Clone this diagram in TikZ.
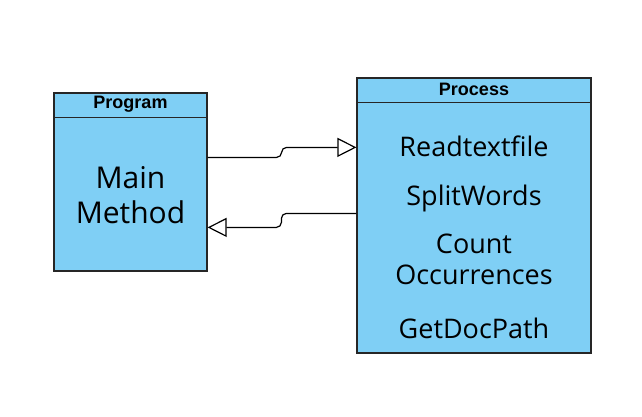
\documentclass[tikz,border=0pt]{standalone}
\usepackage{fontspec}
\setmainfont{Open Sans}
\newfontfamily\headfont{Liberation Sans}
\usetikzlibrary{arrows.meta,positioning}
\definecolor{classblue}{HTML}{7FCFF5}
\tikzset{
  classbox/.style={draw=black!85, fill=classblue, line width=1.2pt, inner sep=0pt},
  headtext/.style={font=\headfont\bfseries\fontsize{18}{21}\selectfont, inner sep=0pt},
  itemtext/.style={font=\fontsize{27}{31}\selectfont, align=center, inner sep=0pt},
  link/.style={draw, line width=1.2pt, rounded corners=5pt,
    -{Triangle[open,length=19pt,width=19pt,fill=white]}}
}
\begin{document}
\begin{tikzpicture}[x=1pt,y=-1pt]
    \useasboundingbox (0,0) rectangle (642,417);
    % Program class
    \node [classbox, minimum width=153pt, minimum height=178pt] (prog) at (130.5,182) {};
    \draw [line width=1.2pt, black!85] (prog.north west) ++(0,25) -- ++(153,0);
    \node [headtext] (proghead) at ([yshift=-12pt]prog.north) {Program};
    \node [itemtext, font=\fontsize{30}{35}\selectfont] (mainm) at (130.5,195) {Main\\Method};
    % Process class
    \node [classbox, minimum width=234pt, minimum height=275pt] (proc) at (474,215.5) {};
    \draw [line width=1.2pt, black!85] (proc.north west) ++(0,25) -- ++(234,0);
    \node [headtext] (prochead) at ([yshift=-12pt]proc.north) {Process};
    \node [itemtext] (readtf) at (474,146) {Readtextfile};
    \node [itemtext] (splitw) at (474,198) {SplitWords};
    \node [itemtext] (countocc) at (474,259.5) {Count\\Occurrences};
    \node [itemtext] (getdoc) at (474,328) {GetDocPath};
    % connectors
    \path (prog.north east) ++(0,65) coordinate (out1);
    \path (proc.north west) ++(0,70) coordinate (in1);
    \path (proc.north west) ++(0,136) coordinate (out2);
    \path (prog.north east) ++(0,135) coordinate (in2);
    \draw [link] (out1) -- ++(74,0) |- (in1);
    \draw [link] (out2) -- ++(-75,0) |- (in2);
\end{tikzpicture}
\end{document}
